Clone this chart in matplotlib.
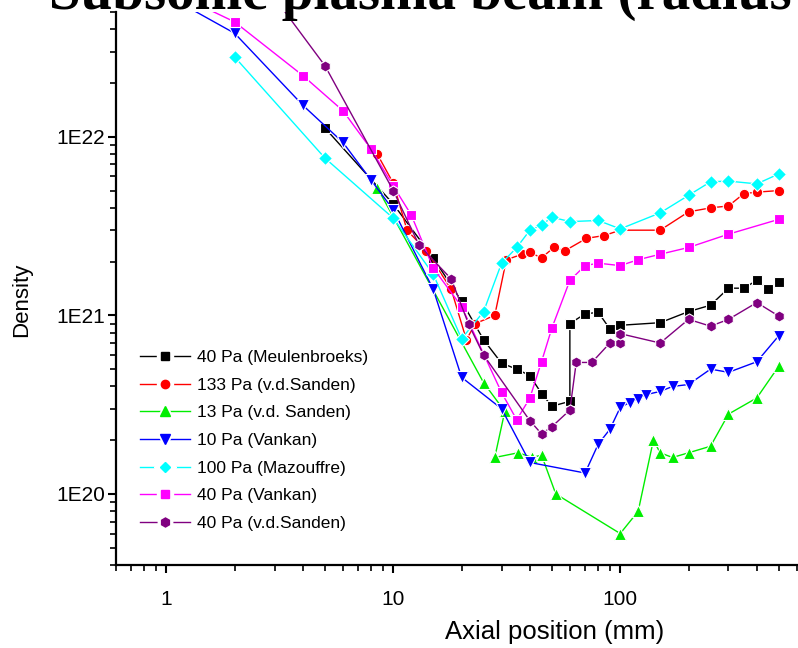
import matplotlib
matplotlib.use('Agg')
from matplotlib import pyplot as plt
from matplotlib.lines import Line2D
from matplotlib.legend_handler import HandlerTuple
from matplotlib.ticker import FixedLocator, FixedFormatter, LogLocator, NullFormatter

plt.rcParams['font.family'] = ['Liberation Sans', 'DejaVu Sans']

# series (x in mm, density)
meul_x = [5, 10, 15, 20, 25, 30, 35, 40, 45, 50, 60, 60, 70, 80, 90, 100, 150, 200, 250, 300, 350, 400, 450, 500]
meul_y = [1.12e22, 4.2e21, 2.1e21, 1.2e21, 7.3e20, 5.4e20, 5.0e20, 4.6e20, 3.65e20, 3.1e20, 3.3e20, 9.0e20,
          1.02e21, 1.04e21, 8.4e20, 8.8e20, 9.1e20, 1.05e21, 1.14e21, 1.42e21, 1.42e21, 1.57e21, 1.4e21, 1.53e21]

sand133_x = [8.5, 10, 11.5, 14, 18, 21, 23, 28, 31.5, 37, 40, 45, 51, 57, 71, 85, 100, 150, 200, 250, 300, 350, 400, 500]
sand133_y = [8.0e21, 5.5e21, 3.0e21, 2.3e21, 1.4e21, 7.3e20, 9.0e20, 1.0e21, 2.05e21, 2.2e21, 2.25e21, 2.1e21,
             2.4e21, 2.3e21, 2.7e21, 2.8e21, 3.0e21, 3.0e21, 3.8e21, 4.0e21, 4.1e21, 4.8e21, 4.9e21, 5.0e21]

sand13_x = [8.5, 25, 31, 28, 35.5, 41, 45, 52, 100, 120, 140, 150, 170, 200, 250, 300, 400, 500]
sand13_y = [5.2e21, 4.2e20, 2.9e20, 1.6e20, 1.7e20, 1.6e20, 1.65e20, 1.0e20, 6.0e19, 8.0e19, 2.0e20, 1.7e20,
            1.6e20, 1.7e20, 1.85e20, 2.8e20, 3.45e20, 5.2e20]

vank10_x = [1, 2, 4, 6, 8, 10, 15, 20, 30, 40, 70, 80, 90, 100, 110, 120, 130, 150, 170, 200, 250, 300, 400, 500]
vank10_y = [6.2e22, 3.8e22, 1.5e22, 9.3e21, 5.7e21, 3.9e21, 1.4e21, 4.5e20, 3.0e20, 1.5e20, 1.31e20, 1.9e20,
            2.3e20, 3.05e20, 3.25e20, 3.4e20, 3.6e20, 3.75e20, 4.0e20, 4.1e20, 5.0e20, 4.8e20, 5.5e20, 7.7e20]

maz_x = [2, 5, 10, 15, 20, 25, 30, 35, 40, 45, 50, 60, 80, 100, 150, 200, 250, 300, 400, 500]
maz_y = [2.8e22, 7.6e21, 3.5e21, 1.7e21, 7.4e20, 1.05e21, 1.96e21, 2.4e21, 3.0e21, 3.2e21, 3.55e21, 3.35e21,
         3.4e21, 3.05e21, 3.75e21, 4.7e21, 5.6e21, 5.65e21, 5.45e21, 6.2e21]

vank40_x = [1, 2, 4, 6, 8, 10, 12, 15, 20, 30, 35, 40, 45, 50, 60, 70, 80, 100, 120, 150, 200, 300, 500]
vank40_y = [6.7e22, 4.4e22, 2.2e22, 1.4e22, 8.5e21, 5.3e21, 3.65e21, 1.84e21, 1.12e21, 3.7e20, 2.6e20, 3.45e20,
            5.5e20, 8.5e20, 1.57e21, 1.9e21, 1.96e21, 1.9e21, 2.05e21, 2.2e21, 2.4e21, 2.85e21, 3.45e21]

sand40_x = [3, 5, 10, 13, 18, 21.5, 25, 40, 45, 50, 60, 64, 75, 90, 100, 100, 150, 200, 250, 300, 400, 500]
sand40_y = [6.0e22, 2.5e22, 5.0e21, 2.47e21, 1.6e21, 8.9e20, 6.0e20, 2.57e20, 2.17e20, 2.38e20, 2.95e20, 5.45e20,
            5.45e20, 7.0e20, 7.0e20, 7.9e20, 7.0e20, 9.5e20, 8.7e20, 9.5e20, 1.18e21, 9.9e20]

labels = ['40 Pa (Meulenbroeks)', '133 Pa (v.d.Sanden)', '13 Pa (v.d. Sanden)', '10 Pa (Vankan)',
          '100 Pa (Mazouffre)', '40 Pa (Vankan)', '40 Pa (v.d.Sanden)']
xticks = [1, 10, 100]
xticklabels = ['1', '10', '100']
yticks = [1e20, 1e21, 1e22]
yticklabels = ['1E20', '1E21', '1E22']

series = [(meul_x, meul_y), (sand133_x, sand133_y), (sand13_x, sand13_y), (vank10_x, vank10_y),
          (maz_x, maz_y), (vank40_x, vank40_y), (sand40_x, sand40_y)]
colors = ['#000000', '#ff0000', '#00ee00', '#0000ff', '#00ffff', '#ff00ff', '#800080']
markers = ['s', 'o', '^', 'v', 'D', 's', 'h']
msizes = [7.5, 7.5, 8.5, 8.5, 7.0, 7.5, 8.0]

W, H = 798, 648
fig = plt.figure(figsize=(W / 100, H / 100), dpi=100)
# axes box in pixels: left 116, bottom 565, top 12; right runs past the picture
ax = fig.add_axes([116 / W, (H - 565) / H, (812 - 116) / W, (565 - 12) / H])

handles = []
for (x, y), c, m, ms in zip(series, colors, markers, msizes):
    ax.plot(x, y, color=c, lw=1.0, marker=m, ms=ms, mfc=c, mec='white', mew=0.8)
    handles.append((Line2D([], [], color=c, lw=1.0, marker=m, ms=ms + 4, mfc='white', mec='white'),
                    Line2D([], [], ls='none', marker=m, ms=ms - 1.5, color=c)))

ax.set_xscale('log')
ax.set_yscale('log')
ax.set_xlim(0.6, 700)
ax.set_ylim(4e19, 5e22)

for s in ['top', 'right']:
    ax.spines[s].set_visible(False)
for s in ['left', 'bottom']:
    ax.spines[s].set_linewidth(1.6)

ax.xaxis.set_major_locator(FixedLocator(xticks))
ax.xaxis.set_major_formatter(FixedFormatter(xticklabels))
ax.yaxis.set_major_locator(FixedLocator(yticks))
ax.yaxis.set_major_formatter(FixedFormatter(yticklabels))
ax.xaxis.set_minor_locator(LogLocator(base=10, subs=range(2, 10)))
ax.yaxis.set_minor_locator(LogLocator(base=10, subs=range(2, 10)))
ax.xaxis.set_minor_formatter(NullFormatter())
ax.yaxis.set_minor_formatter(NullFormatter())
ax.tick_params(which='major', direction='out', length=6, width=1.5, labelsize=15)
ax.tick_params(which='minor', direction='out', length=4, width=1.2)
ax.tick_params(axis='x', which='major', pad=12)
ax.tick_params(axis='y', which='major', pad=2)

ax.set_xlabel('Axial position (mm)', fontsize=18.5)
ax.xaxis.set_label_coords((555 - 116) / (812 - 116), -(632 - 565) / (565 - 12), transform=ax.transAxes)
ax.xaxis.label.set_va('center')
ax.set_ylabel('Density', fontsize=16)
ax.yaxis.set_label_coords(-(116 - 22) / (812 - 116), (565 - 300) / (565 - 12))
ax.yaxis.label.set_va('center')

fig.text(420 / W, 1 - 9 / H, 'Subsonic plasma beam (radius', ha='center', va='baseline',
         fontsize=41, fontweight='bold', family=['Liberation Serif', 'DejaVu Serif'])

ax.legend(handles, labels, handler_map={tuple: HandlerTuple(ndivide=1)}, frameon=False,
          loc='upper left', bbox_to_anchor=(140 / W, 1 - 350 / H), bbox_transform=fig.transFigure,
          borderpad=0, borderaxespad=0, fontsize=12.5, handlelength=2.9, handletextpad=0.4,
          labelspacing=0.72)

fig.savefig('out.png', dpi=100)
